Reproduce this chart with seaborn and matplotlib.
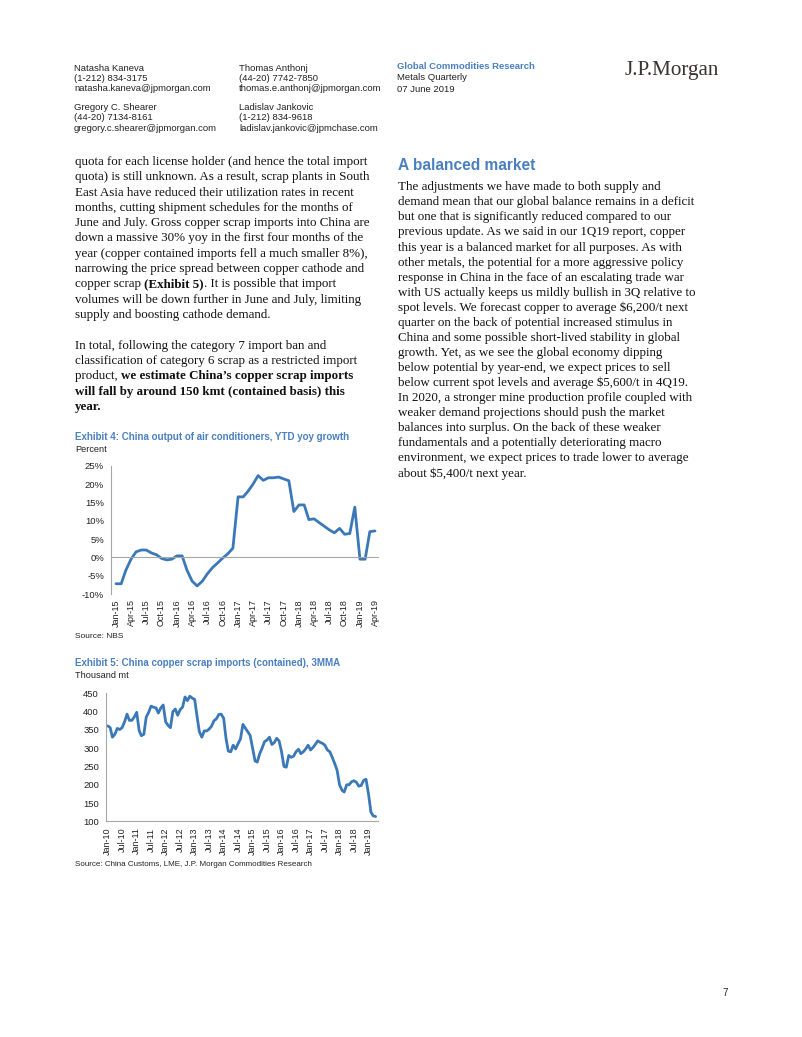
import pandas as pd
import seaborn as sns
import matplotlib.pyplot as plt

sns.set_style('white')
plt.rcParams['font.family'] = ['Liberation Sans', 'DejaVu Sans']

# Exhibit 4: China output of air conditioners, YTD yoy growth (%), Jan-15 .. Apr-19
ac_growth = [-7.2, -7.2, -3.5, -0.5, 1.5, 2.0, 2.0, 1.2, 0.7, -0.3, -0.7, -0.5,
             0.4, 0.4, -3.5, -6.5, -7.8, -6.5, -4.5, -2.8, -1.5, -0.2, 1.0, 2.5,
             16.5, 16.5, 18.0, 20.0, 22.3, 21.0, 21.7, 21.7, 21.9, 21.4, 20.9, 12.5,
             14.3, 14.3, 10.3, 10.5, 9.5, 8.5, 7.5, 6.7, 7.9, 6.3, 6.5, 13.7,
             -0.5, -0.5, 7.0, 7.2]
ac_months = pd.date_range('2015-01-01', periods=len(ac_growth), freq='MS')

# Exhibit 5: China copper scrap imports (contained), 3MMA, thousand mt, Jan-10 .. Apr-19
scrap_imports = [361, 356, 330, 338, 354, 351, 356, 372, 393, 376, 376, 385,
                 398, 348, 334, 338, 385, 398, 415, 412, 410, 396, 410, 418,
                 372, 362, 356, 400, 407, 390, 405, 412, 440, 430, 442, 437,
                 433, 385, 345, 330, 347, 347, 352, 360, 375, 380, 392, 393,
                 382, 325, 292, 290, 308, 298, 312, 325, 365, 355, 345, 335,
                 300, 265, 262, 285, 300, 318, 322, 330, 310, 315, 327, 320,
                 290, 250, 248, 280, 275, 278, 290, 297, 285, 290, 298, 308,
                 295, 302, 310, 320, 316, 313, 308, 295, 290, 275, 258, 240,
                 200, 185, 180, 200, 200, 208, 211, 207, 196, 198, 212, 215,
                 175, 125, 115, 113]
scrap_months = pd.date_range('2010-01-01', periods=len(scrap_imports), freq='MS')

ac_ticks = pd.date_range('2015-01-01', '2019-04-01', freq='3MS')
scrap_ticks = pd.date_range('2010-01-01', '2019-01-01', freq='6MS')
ac_yticks = [-10, -5, 0, 5, 10, 15, 20, 25]
scrap_yticks = [100, 150, 200, 250, 300, 350, 400, 450]

authors = [
    ["Natasha Kaneva", "(1-212) 834-3175", "natasha.kaneva@jpmorgan.com"],
    ["Thomas Anthonj", "(44-20) 7742-7850", "thomas.e.anthonj@jpmorgan.com"],
    ["Gregory C. Shearer", "(44-20) 7134-8161", "gregory.c.shearer@jpmorgan.com"],
    ["Ladislav Jankovic", "(1-212) 834-9618", "ladislav.jankovic@jpmchase.com"],
]

para1 = [
    "quota for each license holder (and hence the total import",
    "quota) is still unknown. As a result, scrap plants in South",
    "East Asia have reduced their utilization rates in recent",
    "months, cutting shipment schedules for the months of",
    "June and July. Gross copper scrap imports into China are",
    "down a massive 30% yoy in the first four months of the",
    "year (copper contained imports fell a much smaller 8%),",
    "narrowing the price spread between copper cathode and",
    [("copper scrap ", "normal"), ("(Exhibit 5)", "bold"), (". It is possible that import", "normal")],
    "volumes will be down further in June and July, limiting",
    "supply and boosting cathode demand.",
    "",
    "In total, following the category 7 import ban and",
    "classification of category 6 scrap as a restricted import",
    [("product, ", "normal"), ("we estimate China\u2019s copper scrap imports", "bold")],
    [("will fall by around 150 kmt (contained basis) this", "bold")],
    [("year.", "bold")],
]

para2 = [
    "The adjustments we have made to both supply and",
    "demand mean that our global balance remains in a deficit",
    "but one that is significantly reduced compared to our",
    "previous update. As we said in our 1Q19 report, copper",
    "this year is a balanced market for all purposes. As with",
    "other metals, the potential for a more aggressive policy",
    "response in China in the face of an escalating trade war",
    "with US actually keeps us mildly bullish in 3Q relative to",
    "spot levels. We forecast copper to average $6,200/t next",
    "quarter on the back of potential increased stimulus in",
    "China and some possible short-lived stability in global",
    "growth. Yet, as we see the global economy dipping",
    "below potential by year-end, we expect prices to sell",
    "below current spot levels and average $5,600/t in 4Q19.",
    "In 2020, a stronger mine production profile coupled with",
    "weaker demand projections should push the market",
    "balances into surplus. On the back of these weaker",
    "fundamentals and a potentially deteriorating macro",
    "environment, we expect prices to trade lower to average",
    "about $5,400/t next year.",
]

W, H = 802, 1037
BLUE = '#4a80c0'
LINE = '#3b78b8'
GREY = '#a6a6a6'
SERIF = ['Liberation Serif', 'DejaVu Serif']

fig = plt.figure(figsize=(W / 100, H / 100), dpi=100)
renderer = fig.canvas.get_renderer()


def fx(px):
    return px / W


def fy(py):
    return 1 - py / H


def txt(x, y, s, size=6.8, **kw):
    return fig.text(fx(x), fy(y), s, fontsize=size, va='center', ha=kw.pop('ha', 'left'), **kw)


def width(s, **kw):
    t = fig.text(0, 0, s + 'x', **kw)
    t2 = fig.text(0, 0, 'x', **kw)
    w = t.get_window_extent(renderer).width - t2.get_window_extent(renderer).width
    t.remove()
    t2.remove()
    return w


def body(x, y0, lines, step, size=9.4):
    for i, line in enumerate(lines):
        y = y0 + i * step
        parts = [(line, 'normal')] if isinstance(line, str) else line
        xx = x
        for s, w in parts:
            kw = dict(fontsize=size, fontweight=w, family=SERIF, color='#111111')
            fig.text(fx(xx), fy(y), s, va='center', **kw)
            xx += width(s, **kw)


# header
for col, (x, y0) in enumerate([(74, 68.3), (239, 68.3), (74, 107.7), (239, 107.7)]):
    for j, s in enumerate(authors[col]):
        txt(x, y0 + j * 10.3, s, color='#222222')
txt(397, 66.7, "Global Commodities Research", color=BLUE, fontweight='bold')
txt(397, 77.7, "Metals Quarterly", color='#222222')
txt(397, 89.3, "07 June 2019", color='#222222')
txt(625, 71, "J.P.Morgan", size=15.2, family=SERIF, color='#3a3330')

# body text
body(75, 162, para1, 15.3)
txt(398, 165, "A balanced market", size=11.2, color=BLUE, fontweight='bold')
body(398, 187.3, para2, 15.05)

# Exhibit 4
txt(75, 437, "Exhibit 4: China output of air conditioners, YTD yoy growth", size=7.0,
    color=BLUE, fontweight='bold')
txt(75, 449, "Percent", size=6.6, color='#222222')
ax1 = fig.add_axes([fx(111), fy(594), (378 - 111) / W, (594 - 465.7) / H])
df1 = pd.DataFrame({'month': ac_months, 'growth': ac_growth})
sns.lineplot(data=df1, x='month', y='growth', ax=ax1, color=LINE, linewidth=2.0)
for side in ['top', 'right']:
    ax1.spines[side].set_visible(False)
ax1.spines['bottom'].set_position(('data', 0))
ax1.spines['bottom'].set_color(GREY)
ax1.spines['left'].set_color(GREY)
ax1.set_xlim(ac_months[0] - pd.Timedelta(days=30), ac_months[-1] + pd.Timedelta(days=18))
ax1.set_ylim(-10, 25)
ax1.set_yticks(ac_yticks)
ax1.set_yticklabels([f"{v}%" for v in ac_yticks])
ax1.set_xticks(ac_ticks)
ax1.set_xticklabels([d.strftime('%b-%y') for d in ac_ticks], rotation=90)
ax1.tick_params(axis='y', length=3, color=GREY, labelsize=6.8, pad=2, labelcolor='#222222')
ax1.tick_params(axis='x', length=3, color=GREY, labelsize=6.5, pad=27, labelcolor='#222222')
ax1.set_xlabel('')
ax1.set_ylabel('')
ax1.set_facecolor('none')
txt(75, 636, "Source: NBS", size=6.0, color='#222222')

# Exhibit 5
txt(75, 663, "Exhibit 5: China copper scrap imports (contained), 3MMA", size=7.0,
    color=BLUE, fontweight='bold')
txt(75, 675.5, "Thousand mt", size=6.6, color='#222222')
ax2 = fig.add_axes([fx(106), fy(821.3), (378 - 106) / W, (821.3 - 693.3) / H])
df2 = pd.DataFrame({'month': scrap_months, 'imports': scrap_imports})
sns.lineplot(data=df2, x='month', y='imports', ax=ax2, color=LINE, linewidth=2.0)
ax2.set_xlim(scrap_months[0] - pd.Timedelta(days=22), scrap_months[-1] + pd.Timedelta(days=30))
ax2.set_ylim(100, 450)
ax2.set_yticks(scrap_yticks)
ax2.set_xticks(scrap_ticks)
ax2.set_xticklabels([d.strftime('%b-%y') for d in scrap_ticks], rotation=90)
for side in ['top', 'right']:
    ax2.spines[side].set_visible(False)
ax2.spines['bottom'].set_color(GREY)
ax2.spines['left'].set_color(GREY)
ax2.tick_params(axis='y', length=3, color=GREY, labelsize=6.8, pad=2, labelcolor='#222222')
ax2.tick_params(axis='x', length=3, color=GREY, labelsize=6.5, pad=1.5, labelcolor='#222222')
ax2.set_xlabel('')
ax2.set_ylabel('')
ax2.set_facecolor('none')
txt(75, 864, "Source: China Customs, LME, J.P. Morgan Commodities Research", size=5.8,
    color='#222222')

txt(722, 993, "7", size=7, color='#222222')

fig.savefig('out.png', dpi=100, facecolor='white')
